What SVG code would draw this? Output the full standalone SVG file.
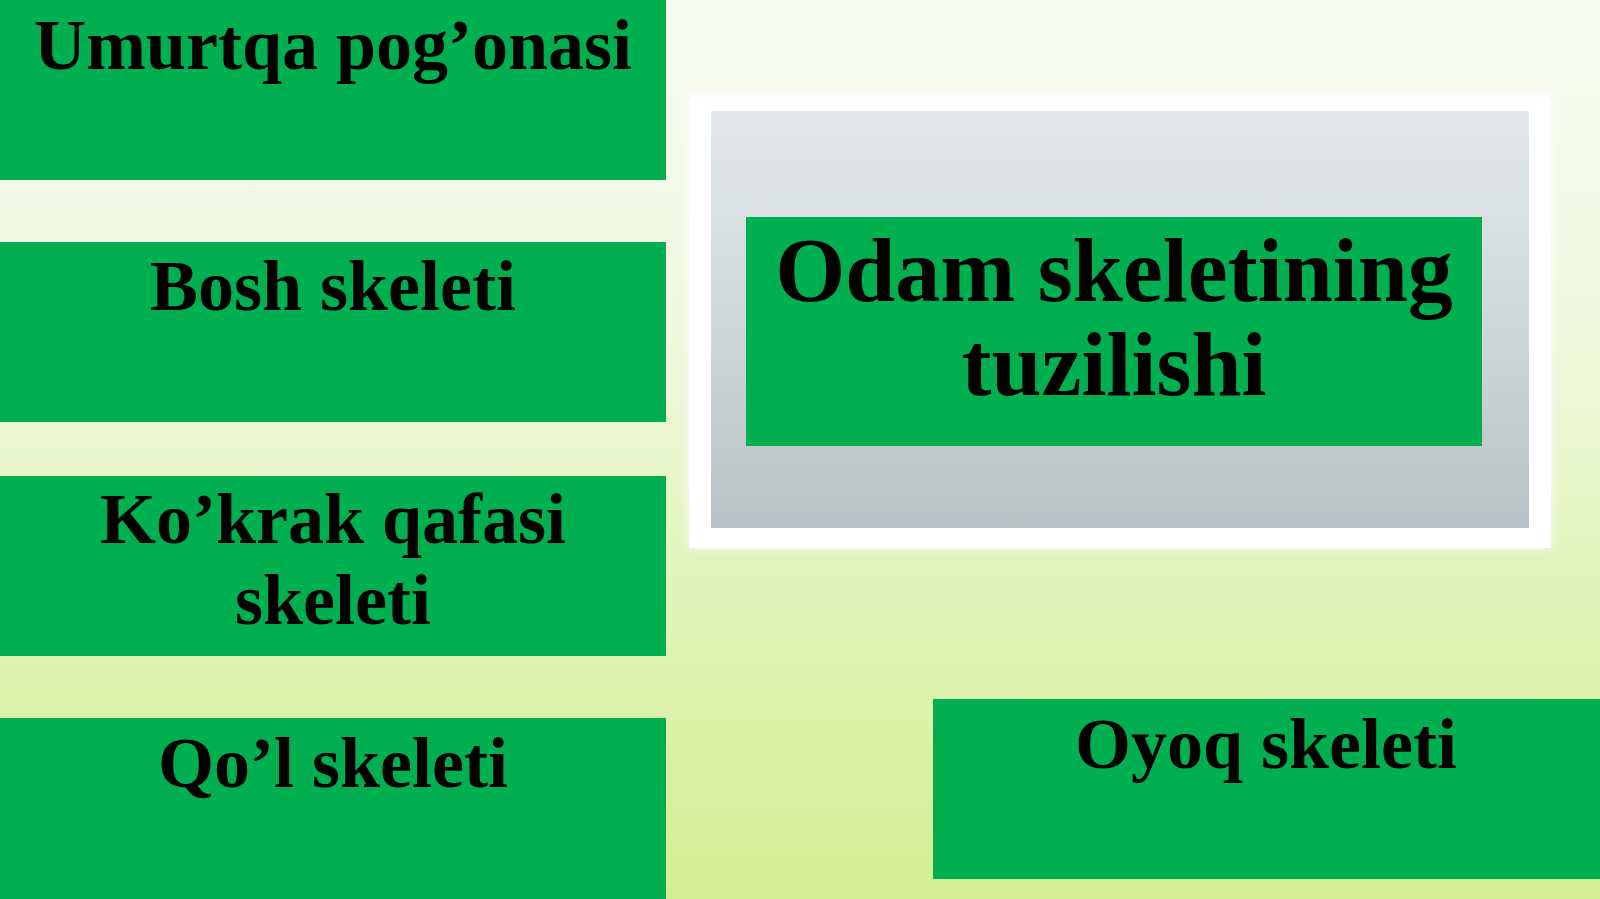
<svg xmlns="http://www.w3.org/2000/svg" width="1600" height="899" viewBox="0 0 1600 899">
  <defs>
    <linearGradient id="bg" x1="0" y1="0" x2="0" y2="1">
      <stop offset="0" stop-color="#f7fbef"/>
      <stop offset="0.35" stop-color="#f1f8e0"/>
      <stop offset="0.7" stop-color="#e0f3b4"/>
      <stop offset="1" stop-color="#d2ee92"/>
    </linearGradient>
    <linearGradient id="gray" x1="0" y1="0" x2="0" y2="1">
      <stop offset="0" stop-color="#e3e7ea"/>
      <stop offset="0.5" stop-color="#d2d8da"/>
      <stop offset="1" stop-color="#b8c1c3"/>
    </linearGradient>
    <filter id="glow" x="-5%" y="-10%" width="110%" height="120%">
      <feGaussianBlur stdDeviation="4"/>
    </filter>
  </defs>
  <style>
    .box { fill: #00b050; }
    .lbl { font-family: "Liberation Serif", "Times New Roman", serif; font-weight: bold; fill: #000000; text-anchor: middle; }
    .side { font-size: 72px; }
    .title { font-size: 90px; }
  </style>
  <rect x="0" y="0" width="1600" height="899" fill="url(#bg)"/>

  <g id="title-frame">
    <rect x="689" y="92" width="862" height="456" fill="#ffffff" filter="url(#glow)" opacity="0.9"/>
    <rect x="689" y="98" width="862" height="450" fill="#ffffff"/>
    <rect x="711" y="111" width="818" height="417" fill="url(#gray)"/>
  </g>

  <g id="node-title">
    <rect class="box" x="746" y="217" width="736" height="229"/>
    <text class="lbl title" x="1114" y="301">Odam skeletining</text>
    <text class="lbl title" x="1114" y="395">tuzilishi</text>
  </g>

  <g id="node-umurtqa">
    <rect class="box" x="0" y="0" width="666" height="180"/>
    <text class="lbl side" x="333" y="69">Umurtqa pog’onasi</text>
  </g>

  <g id="node-bosh">
    <rect class="box" x="0" y="242" width="666" height="180"/>
    <text class="lbl side" x="333" y="310">Bosh skeleti</text>
  </g>

  <g id="node-kokrak">
    <rect class="box" x="0" y="476" width="666" height="180"/>
    <text class="lbl side" x="333" y="543">Ko’krak qafasi</text>
    <text class="lbl side" x="333" y="624">skeleti</text>
  </g>

  <g id="node-qol">
    <rect class="box" x="0" y="718" width="666" height="181"/>
    <text class="lbl side" x="333" y="787">Qo’l skeleti</text>
  </g>

  <g id="node-oyoq">
    <rect class="box" x="933" y="699" width="667" height="180"/>
    <text class="lbl side" x="1266" y="768">Oyoq skeleti</text>
  </g>

  <g id="connectors"></g>
</svg>
